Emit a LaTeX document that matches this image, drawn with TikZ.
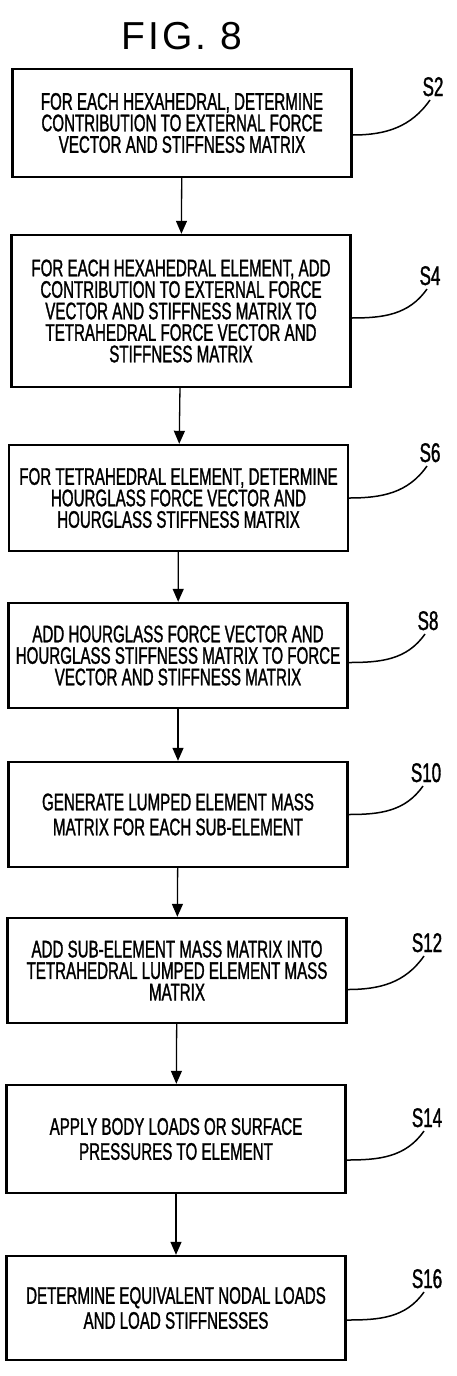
\documentclass[tikz,border=0pt]{standalone}
\usepackage{fontspec}
\setmainfont{Liberation Sans}
\newfontfamily\stepfont[FakeStretch=0.63, FakeBold=1.2]{Liberation Sans}
\newfontfamily\figfont[LetterSpace=8]{Liberation Sans}
\usetikzlibrary{arrows.meta}
\tikzset{
  every picture/.style={line width=1.3pt},
  stepbox/.style={draw, line width=2.4pt, minimum width=339pt, minimum height=#1,
    align=center, inner sep=4pt, font=\fontsize{24}{21.5}\stepfont},
  stepbox/.default=105pt,
  arrow/.style={-{Triangle[length=13pt, width=11pt]}, line width=1.3pt},
  lead/.style={line width=1.5pt},
  tag/.style={font=\fontsize{27}{27}\stepfont, inner sep=0pt, anchor=base},
}
\begin{document}
\begin{tikzpicture}[x=1pt, y=-1pt,
  wide/.style={stepbox, font=\fontsize{24}{25}\stepfont}]
  \useasboundingbox (0,0) rectangle (456,1376);
  % ---------- title
  \node[font=\fontsize{39}{39}\figfont] (title) at (182,36) {FIG. 8};
  % ---------- steps
  \node[stepbox=108pt] (s2) at (182,123) {FOR EACH HEXAHEDRAL, DETERMINE\\CONTRIBUTION TO EXTERNAL FORCE\\VECTOR AND STIFFNESS MATRIX};
  \node[stepbox=152pt] (s4) at (181,311) {FOR EACH HEXAHEDRAL ELEMENT, ADD\\CONTRIBUTION TO EXTERNAL FORCE\\VECTOR AND STIFFNESS MATRIX TO\\TETRAHEDRAL FORCE VECTOR AND\\STIFFNESS MATRIX};
  \node[stepbox=106pt] (s6) at (178.5,498) {FOR TETRAHEDRAL ELEMENT, DETERMINE\\HOURGLASS FORCE VECTOR AND\\HOURGLASS STIFFNESS MATRIX};
  \node[stepbox] (s8) at (178,655.5) {ADD HOURGLASS FORCE VECTOR AND\\HOURGLASS STIFFNESS MATRIX TO FORCE\\VECTOR AND STIFFNESS MATRIX};
  \node[wide] (s10) at (178,814.5) {GENERATE LUMPED ELEMENT MASS\\MATRIX FOR EACH SUB-ELEMENT};
  \node[stepbox] (s12) at (177,970.5) {ADD SUB-ELEMENT MASS MATRIX INTO\\TETRAHEDRAL LUMPED ELEMENT MASS\\MATRIX};
  \node[wide, minimum height=108pt] (s14) at (176,1139) {APPLY BODY LOADS OR SURFACE\\PRESSURES TO ELEMENT};
  \node[wide, minimum height=104pt] (s16) at (176,1308) {DETERMINE EQUIVALENT NODAL LOADS\\AND LOAD STIFFNESSES};
  \foreach \a/\b in {2/4,4/6,6/8,8/10,10/12,12/14,14/16}
    \draw[arrow] (s\a) -- (s\b);
  % ---------- step tags
  \node[tag] (t2) at (433,96) {S2};
  \node[tag] (t4) at (430,285) {S4};
  \node[tag] (t6) at (430,462) {S6};
  \node[tag] (t8) at (428,630) {S8};
  \node[tag] (t10) at (426,782) {S10};
  \node[tag] (t12) at (427,952) {S12};
  \node[tag] (t14) at (427,1127) {S14};
  \node[tag] (t16) at (427,1288) {S16};
  \foreach \n/\dy in {2/-12,4/-7,6/0,8/-7,10/0,12/-19,14/-21,16/-12}
    \draw[lead] ([yshift=\dy pt]s\n.east) to[out=0, in=-125] ([xshift=-3pt, yshift=-4pt]t\n.base);
\end{tikzpicture}
\end{document}
